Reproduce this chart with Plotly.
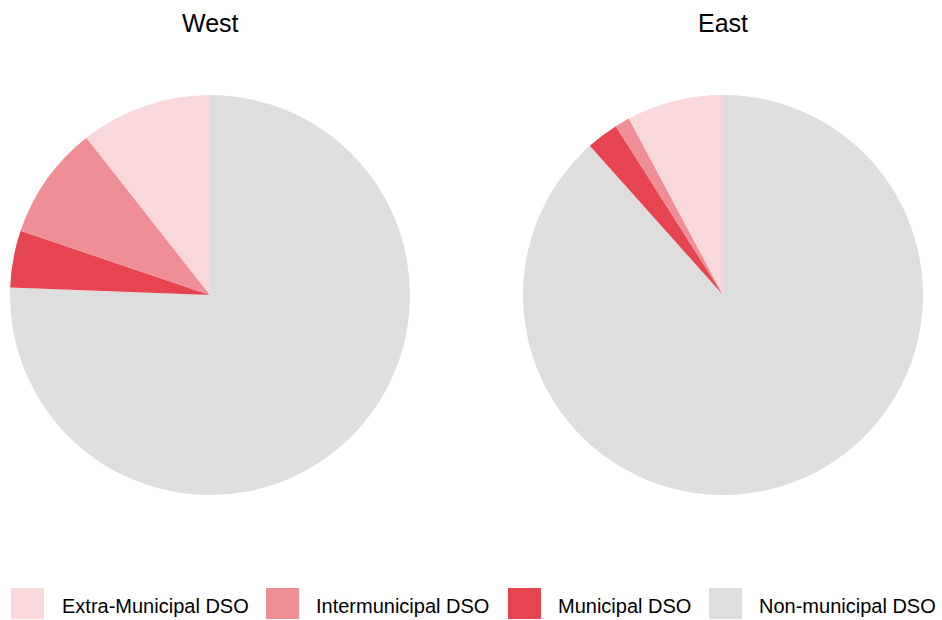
import plotly.graph_objects as go

# Share of grid operators by type, per region
categories = ["Extra-Municipal DSO", "Intermunicipal DSO", "Municipal DSO", "Non-municipal DSO"]
west_values = [10.6, 9.2, 4.6, 75.6]
east_values = [7.8, 1.2, 2.6, 88.4]
regions = ["West", "East"]
colors = ["#F9D8DC", "#F08E95", "#E64550", "#DEDEDE"]

W, H = 942, 620
FONT = "Liberation Sans, Arial, Helvetica, sans-serif"

fig = go.Figure()

# pie domains in pixels: (left, right, top, bottom)
boxes = [(10, 410, 95, 495), (523, 923, 95, 495)]
for name, vals, (l, r, t, b) in zip(regions, [west_values, east_values], boxes):
    # slices run clockwise from 12 o'clock in reverse category order,
    # so Extra-Municipal ends just left of the top
    fig.add_trace(go.Pie(
        labels=categories[::-1],
        values=vals[::-1],
        name=name,
        sort=False,
        direction="clockwise",
        rotation=0,
        textinfo="none",
        hoverinfo="label+percent",
        marker=dict(colors=colors[::-1], line=dict(width=0)),
        domain=dict(x=[l / W, r / W], y=[(H - b) / H, (H - t) / H]),
        showlegend=False,
    ))
    fig.add_annotation(
        x=(l + r) / 2 / W, y=(H - 23) / H, xref="paper", yref="paper",
        text=name, showarrow=False, xanchor="center", yanchor="middle",
        font=dict(family=FONT, size=25, color="#000000"),
    )

# legend drawn along the bottom edge: swatch + label
swatch_x = [11, 266, 508, 709]
label_x = [60, 314, 556, 757]
for cat, col, sx, tx in zip(categories, colors, swatch_x, label_x):
    fig.add_shape(
        type="rect", xref="paper", yref="paper",
        x0=sx / W, x1=(sx + 33) / W, y0=(H - 619) / H, y1=(H - 588) / H,
        fillcolor=col, line=dict(width=0), layer="above",
    )
    fig.add_annotation(
        x=tx / W, y=(H - 606) / H, xref="paper", yref="paper",
        text=cat, showarrow=False, xanchor="left", yanchor="middle",
        font=dict(family=FONT, size=20, color="#000000"),
    )

fig.update_layout(
    width=W, height=H,
    margin=dict(l=0, r=0, t=0, b=0),
    paper_bgcolor="white", plot_bgcolor="white",
    showlegend=False,
)

fig.write_html("out.html")
